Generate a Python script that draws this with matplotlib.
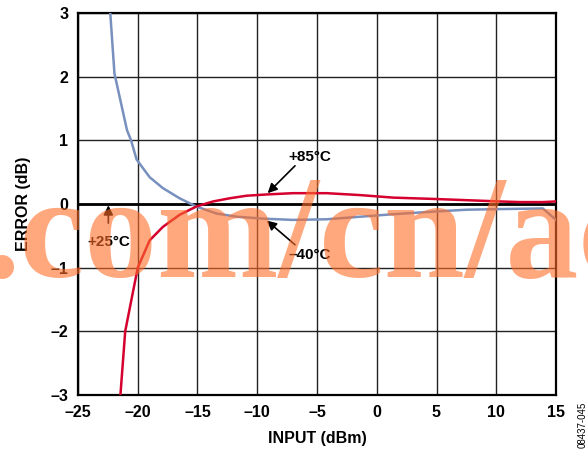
import matplotlib
matplotlib.use("Agg")
import matplotlib.pyplot as plt

# Error vs. input power at three temperatures
x_cold = [-22.3, -21.95, -20.9, -20.56, -20.1, -19.0, -17.9, -16.5, -15.1, -13.4, -11.7,
          -9.5, -7.0, -4.2, -1.4, 1.4, 4.7, 7.5, 10.3, 13.9, 15.0]
y_cold = [3.0, 2.05, 1.16, 1.0, 0.7, 0.42, 0.25, 0.09, -0.04, -0.15, -0.2,
          -0.23, -0.25, -0.24, -0.2, -0.16, -0.12, -0.09, -0.08, -0.07, -0.25]

x_hot = [-21.45, -21.05, -20.0, -19.0, -17.9, -16.5, -15.1, -13.7, -12.3, -10.9, -9.2,
         -7.0, -4.2, -1.4, 1.4, 4.7, 7.5, 10.3, 12.0, 13.9, 15.0]
y_hot = [-3.0, -2.0, -1.0, -0.57, -0.36, -0.17, -0.04, 0.04, 0.09, 0.13, 0.15,
         0.17, 0.17, 0.14, 0.1, 0.08, 0.06, 0.04, 0.03, 0.03, 0.04]

x_room = [-25, 15]
y_room = [0, 0]

x_ticks = [-25, -20, -15, -10, -5, 0, 5, 10, 15]
y_ticks = [-3, -2, -1, 0, 1, 2, 3]

plt.rcParams['font.family'] = ['Liberation Sans', 'DejaVu Sans']

fig = plt.figure(figsize=(5.88, 4.49), dpi=100)
ax = fig.add_axes([78/588, 54/449, 478/588, 382/449])

ax.set_xlim(-25, 15)
ax.set_ylim(-3, 3)
ax.set_xticks(x_ticks)
ax.set_yticks(y_ticks)
ax.set_xticklabels([str(v).replace('-', '\u2013') for v in x_ticks], fontweight='bold', fontsize=11.5)
ax.set_yticklabels([str(v).replace('-', '\u2013') for v in y_ticks], fontweight='bold', fontsize=11.5)
ax.tick_params(axis='x', length=0, pad=7)
ax.tick_params(axis='y', length=0, pad=7)
ax.grid(True, color='#222222', linewidth=1.0)
for s in ax.spines.values():
    s.set_linewidth(1.6)
    s.set_color('black')
ax.set_axisbelow(True)

ax.plot(x_room, y_room, color='black', linewidth=2.0, zorder=3)
ax.plot(x_cold, y_cold, color='#7890BE', linewidth=1.8, zorder=4)
ax.plot(x_hot, y_hot, color='#D5002E', linewidth=1.8, zorder=4)

ax.set_xlabel('INPUT (dBm)', fontweight='bold', fontsize=11.5, labelpad=8)
ax.set_ylabel('ERROR (dB)', fontweight='bold', fontsize=11.5, labelpad=14)

arrow = dict(arrowstyle='-|>', color='black', linewidth=1.2, mutation_scale=14, shrinkA=0, shrinkB=0)
ax.annotate('', xy=(-9.13, 0.17), xytext=(-6.84, 0.6), arrowprops=arrow, zorder=5)
ax.text(-5.6, 0.74, '+85°C', fontweight='bold', fontsize=11, ha='center', va='center')
ax.annotate('', xy=(-9.2, -0.26), xytext=(-6.84, -0.64), arrowprops=arrow, zorder=5)
ax.text(-5.6, -0.8, '\u201340°C', fontweight='bold', fontsize=11, ha='center', va='center')
ax.annotate('', xy=(-22.46, -0.02), xytext=(-22.46, -0.3), arrowprops=arrow, zorder=5)
ax.text(-22.46, -0.6, '+25°C', fontweight='bold', fontsize=11, ha='center', va='center')

fig.text(583/588, 1 - 425/449, '08437-045', rotation=90, fontsize=7,
         ha='center', va='center')

fig.text(-16/588, 1 - 277/449, '.com/cn/ac', fontsize=105, fontweight='bold',
         family=['Liberation Serif', 'DejaVu Serif'], color=(1.0, 0.43, 0.16),
         alpha=0.6, ha='left', va='baseline', zorder=10)

fig.savefig('out.png', dpi=100)
